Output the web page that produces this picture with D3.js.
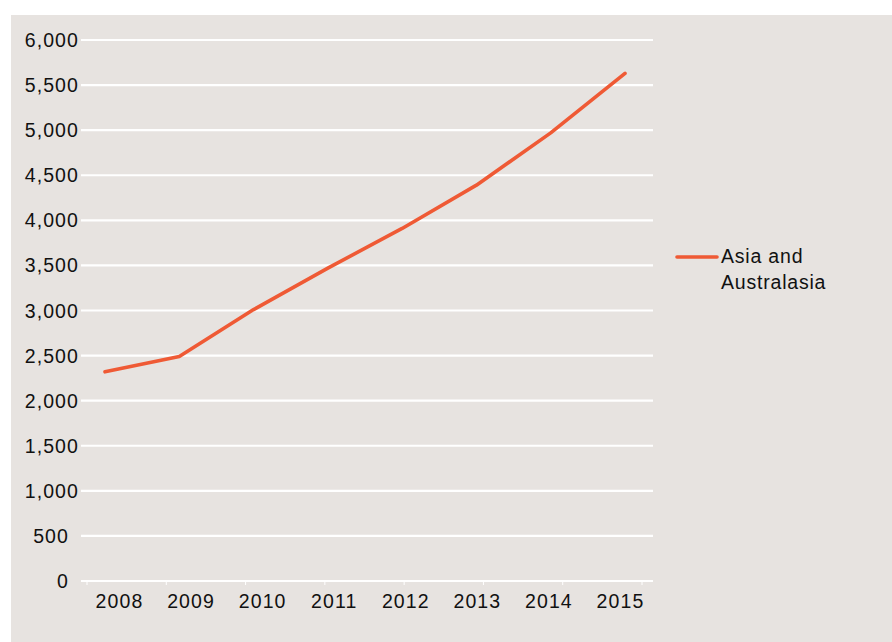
<!DOCTYPE html>
<html><head><meta charset="utf-8">
<script src="https://cdn.jsdelivr.net/npm/d3@7"></script>
<style>body{margin:0;background:#fff}svg{display:block}text{font-family:"Liberation Sans",Arial,sans-serif;fill:#111}</style>
</head><body>
<svg id="c" width="892" height="642"></svg>
<script>
const years = ["2008","2009","2010","2011","2012","2013","2014","2015"];
const values = [2320, 2490, 3010, 3470, 3910, 4390, 4970, 5630];
const yTicks = [0,500,1000,1500,2000,2500,3000,3500,4000,4500,5000,5500,6000];
const seriesName = ["Asia and", "Australasia"];

const svg = d3.select("#c");
svg.append("rect").attr("x",11).attr("y",15).attr("width",881).attr("height",627).attr("fill","#e7e3e0");

const y = d3.scaleLinear().domain([0,6000]).range([581,40]);
const xLine = d3.scalePoint().domain(years).range([105,625]);
const xLab = d3.scalePoint().domain(years).range([119,620]);
const xTick = d3.scalePoint().domain(years).range([87,642]);

const fmt = d3.format(",");
svg.append("g").selectAll("line").data(yTicks).join("line")
  .attr("x1",81).attr("x2",653).attr("y1",d=>y(d)).attr("y2",d=>y(d))
  .attr("stroke","#fff").attr("stroke-width",2.2);

svg.append("g").selectAll("line").data(years).join("line")
  .attr("x1",d=>xTick(d)).attr("x2",d=>xTick(d)).attr("y1",581).attr("y2",585)
  .attr("stroke","#fff").attr("stroke-width",1);

svg.append("g").selectAll("text").data(yTicks).join("text")
  .attr("x",d=>d>=1000?79:69).attr("y",d=>y(d)+7)
  .attr("text-anchor","end").attr("font-size",19.5).attr("letter-spacing",1.1)
  .text(d=>fmt(d));

svg.append("g").selectAll("text").data(years).join("text")
  .attr("x",d=>xLab(d)+0.5).attr("y",608)
  .attr("text-anchor","middle").attr("font-size",19.5).attr("letter-spacing",1.1)
  .text(d=>d);

const line = d3.line().x((d,i)=>xLine(years[i])).y(d=>y(d));
svg.append("path").datum(values).attr("d",line).attr("fill","none")
  .attr("stroke","#ef5a35").attr("stroke-width",3.6).attr("stroke-linecap","round").attr("stroke-linejoin","round");

const lg = svg.append("g");
lg.append("line").attr("x1",677).attr("x2",717).attr("y1",257).attr("y2",257)
  .attr("stroke","#ef5a35").attr("stroke-width",3.6).attr("stroke-linecap","round");
lg.selectAll("text").data(seriesName).join("text")
  .attr("x",721).attr("y",(d,i)=>263+i*26).attr("font-size",19.5).attr("letter-spacing",0.8)
  .text(d=>d);
</script>
</body></html>
